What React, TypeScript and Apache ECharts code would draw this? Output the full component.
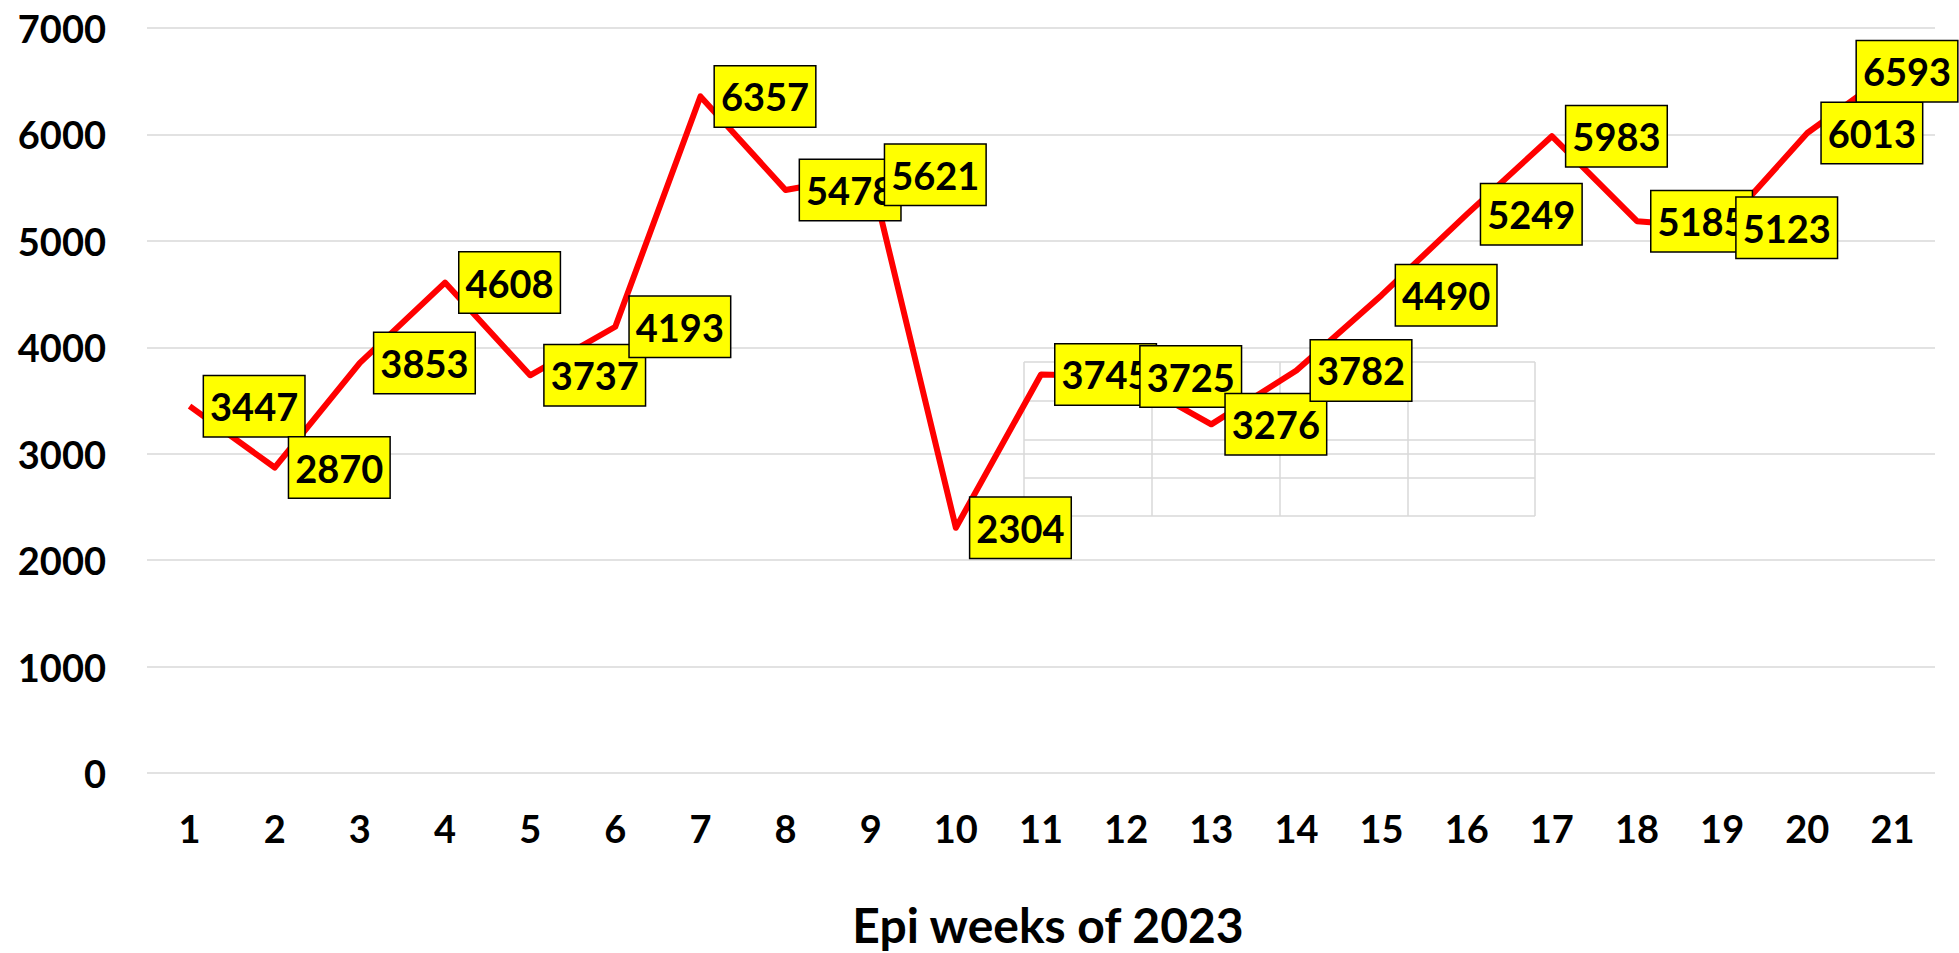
import React, { useEffect, useRef } from "react";
import * as echarts from "echarts";

const weeks = ["1", "2", "3", "4", "5", "6", "7", "8", "9", "10", "11", "12", "13", "14", "15", "16", "17", "18", "19", "20", "21"];
const cases = [3447, 2870, 3853, 4608, 3737, 4193, 6357, 5478, 5621, 2304, 3745, 3725, 3276, 3782, 4490, 5249, 5983, 5185, 5123, 6013, 6593];
const yTicks = { min: 0, max: 7000, interval: 1000 };
const xAxisTitle = "Epi weeks of 2023";

// stray light-grey table outline seen in the reference (decoration, pixel space)
const strayCols = [1024, 1152, 1280, 1408, 1535];
const strayRows = [362, 401, 440, 478, 516];

const FONT = "Lato, 'Open Sans', 'Liberation Sans', sans-serif";

export default function App() {
  const ref = useRef<HTMLDivElement>(null);
  useEffect(() => {
    if (!ref.current) return;
    const chart = echarts.init(ref.current, null, { renderer: "svg" });
    const gridColor = "#d9d9d9";
    const stray: any[] = [];
    strayCols.forEach((x) =>
      stray.push({
        type: "line",
        shape: { x1: x, y1: strayRows[0], x2: x, y2: strayRows[strayRows.length - 1] },
        style: { stroke: gridColor, lineWidth: 1.5 },
      })
    );
    strayRows.forEach((y) =>
      stray.push({
        type: "line",
        shape: { x1: strayCols[0], y1: y, x2: strayCols[strayCols.length - 1], y2: y },
        style: { stroke: gridColor, lineWidth: 1.5 },
      })
    );
    const lastIndex = cases.length - 1;
    chart.setOption({
      animation: false,
      backgroundColor: "#ffffff",
      grid: { left: 147, right: 24, top: 28, bottom: 178 },
      xAxis: {
        type: "category",
        data: weeks,
        boundaryGap: true,
        axisLine: { show: false },
        axisTick: { show: false },
        axisLabel: { color: "#000", fontFamily: FONT, fontWeight: "bold", fontSize: 38, margin: 36 },
        name: xAxisTitle,
        nameLocation: "middle",
        nameGap: 127,
        nameTextStyle: { color: "#000", fontFamily: FONT, fontWeight: "bold", fontSize: 48, padding: [0, 0, 0, 14] },
      },
      yAxis: {
        type: "value",
        min: yTicks.min,
        max: yTicks.max,
        interval: yTicks.interval,
        axisLine: { show: false },
        axisTick: { show: false },
        splitLine: { lineStyle: { color: gridColor, width: 1.5 } },
        axisLabel: {
          color: "#000",
          fontFamily: FONT,
          fontWeight: "bold",
          fontSize: 38,
          margin: 41,
          formatter: (v: number) => String(v),
        },
      },
      series: [
        {
          type: "line",
          data: cases,
          z: 2,
          symbol: "circle",
          symbolSize: 1,
          showSymbol: true,
          itemStyle: { color: "rgba(255,0,0,0)" },
          lineStyle: { color: "#ff0000", width: 6, join: "round" },
          label: {
            show: true,
            position: "right",
            distance: 14,
            color: "#000",
            fontFamily: FONT,
            fontWeight: "bold",
            fontSize: 38,
            lineHeight: 38,
            backgroundColor: "#ffff00",
            borderColor: "#000",
            borderWidth: 1.5,
            padding: [11, 6, 11, 6],
          },
          labelLayout: (p: any) => (p.dataIndex === lastIndex ? { dx: -50 } : {}),
        },
      ],
      graphic: [{ type: "group", z: 10, children: stray }],
    });
    return () => chart.dispose();
  }, []);
  return (
    <div
      ref={ref}
      style={{ position: "fixed", left: 0, top: 0, width: 1959, height: 953, background: "#fff" }}
    />
  );
}
